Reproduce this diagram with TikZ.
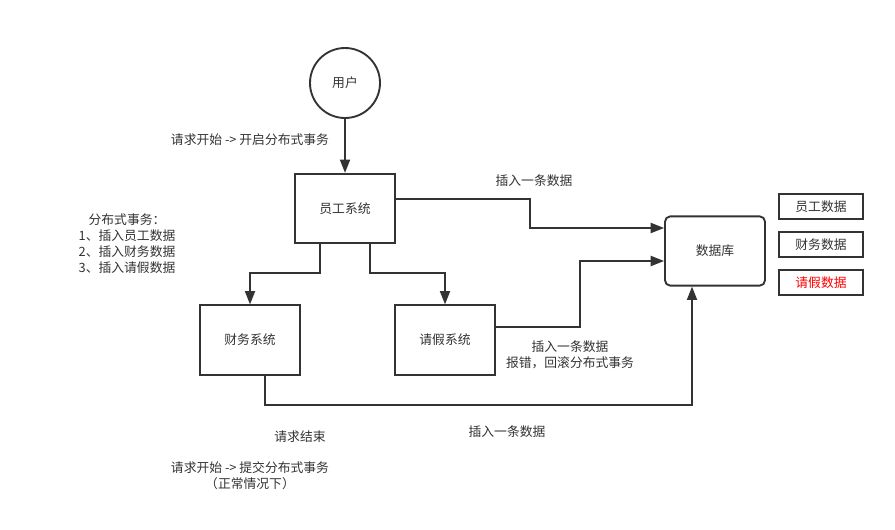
\documentclass[tikz,border=0pt]{standalone}
\usepackage{fontspec}
\setmainfont{Noto Sans CJK SC}
\usetikzlibrary{arrows.meta}
\definecolor{ln}{HTML}{333333}
\begin{document}
\begin{tikzpicture}[x=0.75pt,y=-0.75pt,
  font=\fontsize{9.6}{12}\selectfont,
  sysbox/.style={draw=ln,line width=1.4pt,minimum width=75pt,minimum height=52pt,inner sep=0pt,text=ln},
  databox/.style={draw=ln,line width=1.4pt,minimum width=63pt,minimum height=19pt,inner sep=0pt,text=ln},
  conn/.style={draw=ln,line width=1.4pt,-{Triangle[length=10pt,width=7.5pt]}},
  lbl/.style={text=ln,align=center,inner sep=0pt}]
\useasboundingbox (0,0) rectangle (895,529);
\fill[white] (0,0) rectangle (895,529);
\node[circle,draw=ln,line width=1.4pt,minimum size=52.5pt,inner sep=0pt,text=ln] (user) at (345,83) {用户};
\node[sysbox] (emp) at (345,208.5) {员工系统};
\node[sysbox] (fin) at (250,340) {财务系统};
\node[sysbox] (lea) at (445,340) {请假系统};
\node[sysbox,rounded corners=4pt] (db) at (715,251) {数据库};
\node[databox] (d1) at (821,206.5) {员工数据};
\node[databox] (d2) at (821,244.5) {财务数据};
\node[databox,text=red] (d3) at (821,282.5) {请假数据};
\coordinate (e1) at (530,199);
\coordinate (e2) at (530,228);
\coordinate (f1) at (320,273);
\coordinate (f2) at (250,273);
\coordinate (g1) at (370,273);
\coordinate (g2) at (445,273);
\coordinate (l1) at (580,327);
\coordinate (l2) at (580,261);
\coordinate (h1) at (265,405);
\coordinate (h2) at (692,405);
\draw[conn] (user.south) -- (emp.north);
\draw[conn] (emp.east |- e1) -- (e1) -- (e2) -- (db.west |- e2);
\draw[conn] (emp.south -| f1) -- (f1) -- (f2) -- (fin.north);
\draw[conn] (emp.south -| g1) -- (g1) -- (g2) -- (lea.north);
\draw[conn] (lea.east |- l1) -- (l1) -- (l2) -- (db.west |- l2);
\draw[conn] (fin.south -| h1) -- (h1) -- (h2) -- (db.south -| h2);
\node[lbl] (t1) at (250,140) {请求开始 -> 开启分布式事务};
\node[lbl] (t2) at (534,181) {插入一条数据};
\node[lbl] (t3) at (127,244) {分布式事务：\\1、插入员工数据\\2、插入财务数据\\3、插入请假数据};
\node[lbl] (t4) at (570,355) {插入一条数据\\报错，回滚分布式事务};
\node[lbl] (t5) at (300,437) {请求结束};
\node[lbl] (t6) at (507,432) {插入一条数据};
\node[lbl] (t7) at (250,476) {请求开始 -> 提交分布式事务\\（正常情况下）};
\end{tikzpicture}
\end{document}
